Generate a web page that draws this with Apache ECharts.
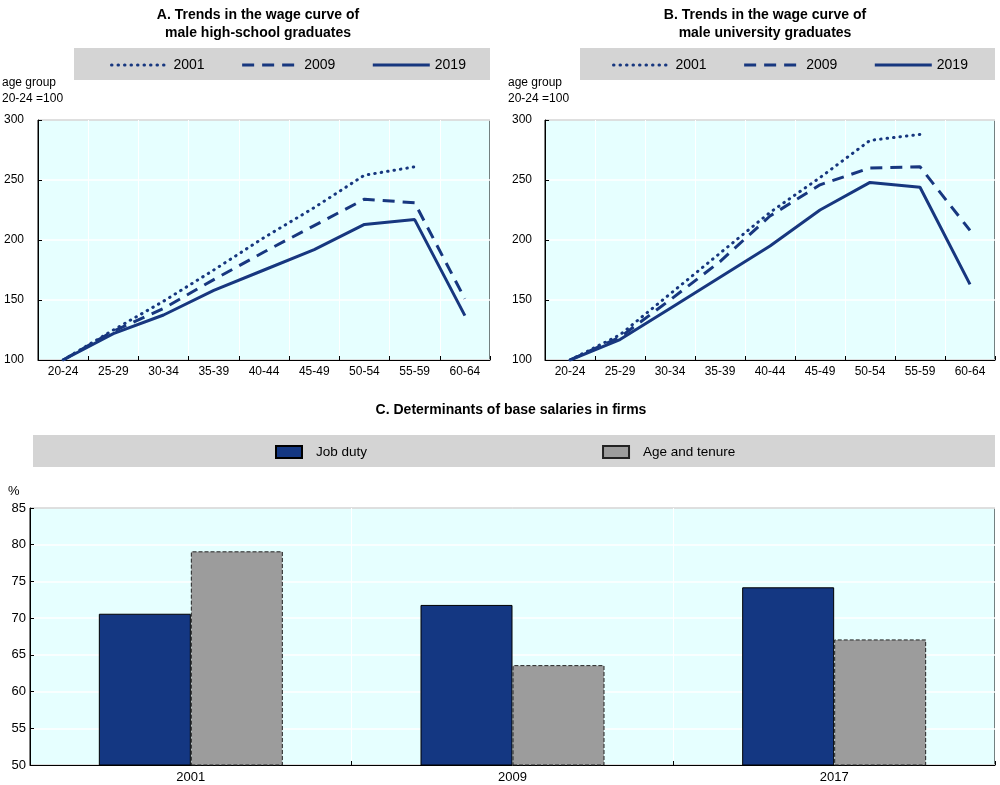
<!DOCTYPE html>
<html>
<head>
<meta charset="utf-8">
<script src="https://cdn.jsdelivr.net/npm/echarts@6/dist/echarts.min.js"></script>
<style>html,body{margin:0;padding:0;background:#fff;}#c{width:1000px;height:785px;}</style>
</head>
<body>
<div id="c"></div>
<script>
var ageGroups = ['20-24','25-29','30-34','35-39','40-44','45-49','50-54','55-59','60-64'];
var hsYears = ['2001','2009','2019'];
var hs2001 = [100, 125, 149, 175, 202, 227, 254, 261, null];
var hs2009 = [100, 124, 143, 167, 190, 212, 234, 231, 151];
var hs2019 = [100, 122, 137.5, 158, 175, 192, 213, 217, 137];
var uni2001 = [100, 121, 155, 189, 223, 252, 283, 288, null];
var uni2009 = [100, 119, 150, 182, 220, 246, 260, 261, 208];
var uni2019 = [100, 117, 143, 169, 195, 225, 248, 244, 163];
var barYears = ['2001','2009','2017'];
var barNames = ['Job duty', 'Age and tenure'];
var jobDuty = [70.6, 71.8, 74.2];
var ageTenure = [79.1, 63.6, 67.1];
var lineTicks = [100, 300, 50];
var barTicks = [50, 85, 5];

var LINE = '#17377f';
var FONT = 'Arial, "Liberation Sans", sans-serif';
var BG = '#e6ffff';
var CLEAR = 'rgba(0,0,0,0)';

function lineStyleFor(type) {
  var ls = {color: LINE, width: 3, type: 'solid'};
  if (type === 'dotted') { ls.type = [0.5, 6]; ls.cap = 'round'; }
  if (type === 'dashed') { ls.type = [12, 8]; }
  return ls;
}
function lineSeries(name, data, gi, type) {
  return {name: name, type: 'line', xAxisIndex: gi, yAxisIndex: gi, data: data,
    symbol: 'none', connectNulls: false, color: LINE, lineStyle: lineStyleFor(type), silent: true, animation: false};
}
function catAxis(gi, data, fs) {
  return {type: 'category', gridIndex: gi, data: data, boundaryGap: true,
    axisLine: {show: true, lineStyle: {color: '#000', width: 1}},
    axisTick: {show: true, inside: true, length: 4, lineStyle: {color: '#000'}},
    axisLabel: {color: '#000', fontSize: fs, fontFamily: FONT, margin: 6, interval: 0},
    splitLine: {show: true, lineStyle: {color: '#fff', width: 1}}};
}
function valAxis(gi, t, fs, margin) {
  return {type: 'value', gridIndex: gi, min: t[0], max: t[1], interval: t[2],
    axisLine: {show: true, lineStyle: {color: '#000', width: 1}},
    axisTick: {show: true, inside: true, length: 4, lineStyle: {color: '#000'}},
    axisLabel: {color: '#000', fontSize: fs, fontFamily: FONT, margin: margin},
    splitLine: {show: true, lineStyle: {color: '#fff', width: 1.5}}};
}
function txt(x, y, text, font, align) {
  return {type: 'text', x: x, y: y, z: 10, style: {text: text, font: font, fill: '#000',
    textAlign: align || 'left', align: align || 'left', textVerticalAlign: 'middle', verticalAlign: 'middle'}};
}
function lineLegend(left) {
  return {left: left, top: 58, padding: 0, itemWidth: 57, itemHeight: 14, itemGap: 36,
    data: hsYears,
    itemStyle: {color: CLEAR, borderColor: CLEAR, borderWidth: 0, opacity: 0},
    lineStyle: {width: 3},
    textStyle: {fontSize: 14, fontFamily: FONT, color: '#000'}, selectedMode: false};
}

var chart = echarts.init(document.getElementById('c'), null, {renderer: 'canvas'});
chart.setOption({
  animation: false,
  backgroundColor: '#fff',
  grid: [
    {left: 38, top: 120, width: 452, height: 240, show: true, backgroundColor: BG, borderColor: '#000', borderWidth: 1},
    {left: 545, top: 120, width: 450, height: 240, show: true, backgroundColor: BG, borderColor: '#000', borderWidth: 1},
    {left: 30, top: 508, width: 965, height: 257, show: true, backgroundColor: BG, borderColor: '#000', borderWidth: 1}
  ],
  xAxis: [catAxis(0, ageGroups, 12), catAxis(1, ageGroups, 12), catAxis(2, barYears, 13)],
  yAxis: [valAxis(0, lineTicks, 12, 14), valAxis(1, lineTicks, 12, 13), valAxis(2, barTicks, 13, 4)],
  legend: [
    lineLegend(110),
    lineLegend(612),
    {left: 275, top: 445, padding: 0, itemWidth: 26, itemHeight: 12, itemGap: 235, icon: 'rect',
     data: barNames, textStyle: {fontSize: 13.5, fontFamily: FONT, color: '#000', padding: [0, 0, 0, 9]}, selectedMode: false}
  ],
  graphic: [
    {type: 'rect', z: -1, shape: {x: 74, y: 48, width: 416, height: 32}, style: {fill: '#d4d4d4'}},
    {type: 'rect', z: -1, shape: {x: 580, y: 48, width: 415, height: 32}, style: {fill: '#d4d4d4'}},
    {type: 'rect', z: -1, shape: {x: 33, y: 435, width: 962, height: 32}, style: {fill: '#d4d4d4'}},
    txt(258, 15, 'A. Trends in the wage curve of', 'bold 14px ' + FONT, 'center'),
    txt(258, 33, 'male high-school graduates', 'bold 14px ' + FONT, 'center'),
    txt(765, 15, 'B. Trends in the wage curve of', 'bold 14px ' + FONT, 'center'),
    txt(765, 33, 'male university graduates', 'bold 14px ' + FONT, 'center'),
    txt(2, 83, 'age group', '12px ' + FONT),
    txt(2, 99, '20-24 =100', '12px ' + FONT),
    txt(508, 83, 'age group', '12px ' + FONT),
    txt(508, 99, '20-24 =100', '12px ' + FONT),
    txt(511, 410, 'C. Determinants of base salaries in firms', 'bold 14px ' + FONT, 'center'),
    txt(8, 491, '%', '13px ' + FONT)
  ],
  series: [
    lineSeries('2001', hs2001, 0, 'dotted'),
    lineSeries('2009', hs2009, 0, 'dashed'),
    lineSeries('2019', hs2019, 0, 'solid'),
    lineSeries('2001', uni2001, 1, 'dotted'),
    lineSeries('2009', uni2009, 1, 'dashed'),
    lineSeries('2019', uni2019, 1, 'solid'),
    {name: barNames[0], type: 'bar', xAxisIndex: 2, yAxisIndex: 2, data: jobDuty, barWidth: 92, barGap: '0%',
     itemStyle: {color: '#143782', borderColor: '#000', borderWidth: 1}, silent: true},
    {name: barNames[1], type: 'bar', xAxisIndex: 2, yAxisIndex: 2, data: ageTenure, barWidth: 92, barGap: '0%',
     itemStyle: {color: '#9c9c9c', borderColor: '#222', borderWidth: 1, borderType: 'dashed'}, silent: true}
  ]
});
</script>
</body>
</html>
